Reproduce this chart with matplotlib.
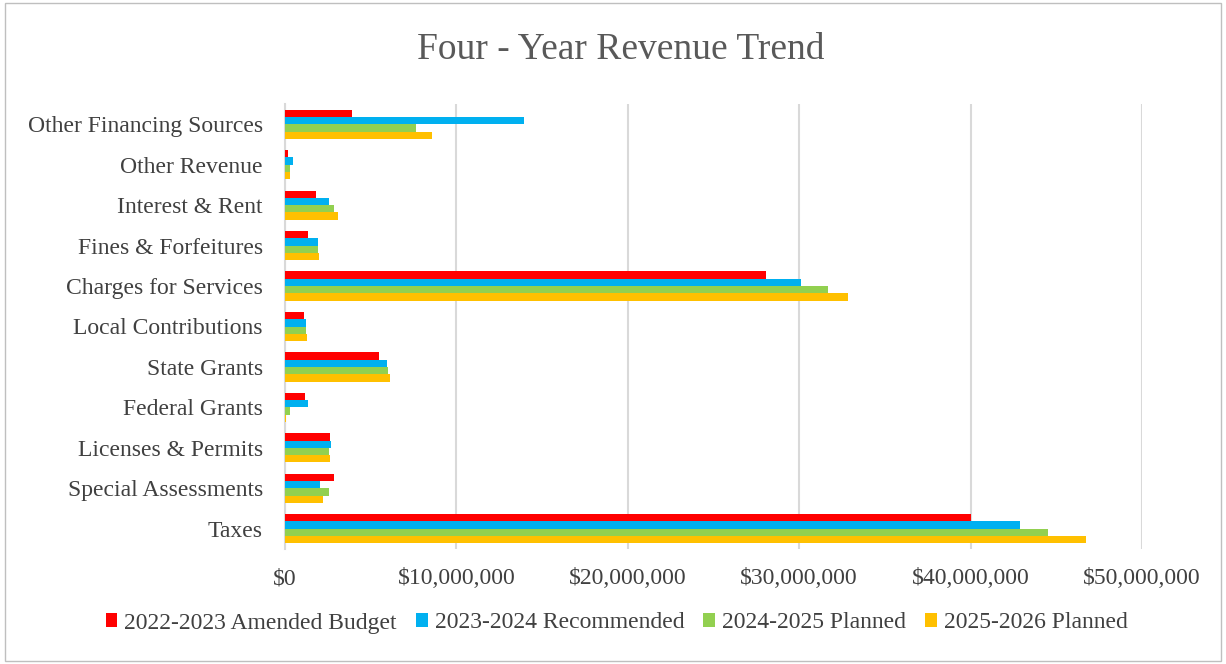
import numpy as np
import matplotlib.pyplot as plt
from matplotlib.ticker import FuncFormatter
from matplotlib.patches import Rectangle

# Revenue categories, bottom to top
categories = ["Taxes", "Special Assessments", "Licenses & Permits", "Federal Grants",
              "State Grants", "Local Contributions", "Charges for Services",
              "Fines & Forfeitures", "Interest & Rent", "Other Revenue",
              "Other Financing Sources"]

# Dollar amounts, one list per budget year
fy2023 = [40000000, 2880000, 2630000, 1170000, 5470000, 1130000, 28040000,
          1370000, 1810000, 170000, 3890000]
fy2024 = [42900000, 2040000, 2690000, 1370000, 5940000, 1210000, 30090000,
          1950000, 2590000, 490000, 13920000]
fy2025 = [44500000, 2550000, 2570000, 320000, 6030000, 1250000, 31700000,
          1950000, 2880000, 310000, 7670000]
fy2026 = [46730000, 2240000, 2630000, 50000, 6110000, 1290000, 32850000,
          1970000, 3080000, 310000, 8560000]

series = [("2022-2023 Amended Budget", fy2023, "#ff0000"),
          ("2023-2024 Recommended", fy2024, "#00b0f0"),
          ("2024-2025 Planned", fy2025, "#92d050"),
          ("2025-2026 Planned", fy2026, "#ffc000")]

plt.rcParams['font.family'] = ['Liberation Serif', 'DejaVu Serif']
text_col = "#404040"

fig = plt.figure(figsize=(12.26, 6.64), dpi=100)
ax = fig.add_axes([285 / 1226, 1 - 549 / 664, (1142 - 285) / 1226, (549 - 104) / 664])

# chart border
fig.patches.append(Rectangle((0.004, 0.004), 0.992, 0.992, transform=fig.transFigure,
                             fill=False, edgecolor="#bfbfbf", linewidth=1))

y = np.arange(len(categories))
h = 0.18
offsets = [1.5 * h, 0.5 * h, -0.5 * h, -1.5 * h]
for (label, vals, col), off in zip(series, offsets):
    ax.barh(y + off, vals, height=h, color=col, label=label, zorder=3)

ax.set_xlim(0, 50000000)
ax.set_ylim(-0.5, len(categories) - 0.5)
ax.set_xticks(np.arange(0, 50000001, 10000000))
ax.xaxis.set_major_formatter(FuncFormatter(lambda v, p: "${:,.0f}".format(v)))
ax.set_yticks(y)
ax.set_yticklabels(categories)
ax.tick_params(axis='both', length=0, labelsize=17, colors=text_col)
ax.tick_params(axis='x', pad=14)
ax.tick_params(axis='y', pad=16)
ax.grid(axis='x', color="#d9d9d9", linewidth=1.5, zorder=0)
for s in ["top", "right", "bottom"]:
    ax.spines[s].set_visible(False)
ax.spines["left"].set_color("#d9d9d9")
ax.spines["left"].set_linewidth(1.5)

fig.text(0.506, 1 - 50 / 664, "Four - Year Revenue Trend", ha="center", va="center",
         fontsize=27, color="#595959")

fig.legend(loc="center", bbox_to_anchor=(0.503, 1 - 623 / 664), ncol=4, frameon=False,
           fontsize=17, handlelength=0.5, handleheight=0.5, handletextpad=0.3,
           columnspacing=0.8, labelcolor=text_col)

fig.savefig("out.png", dpi=100)
